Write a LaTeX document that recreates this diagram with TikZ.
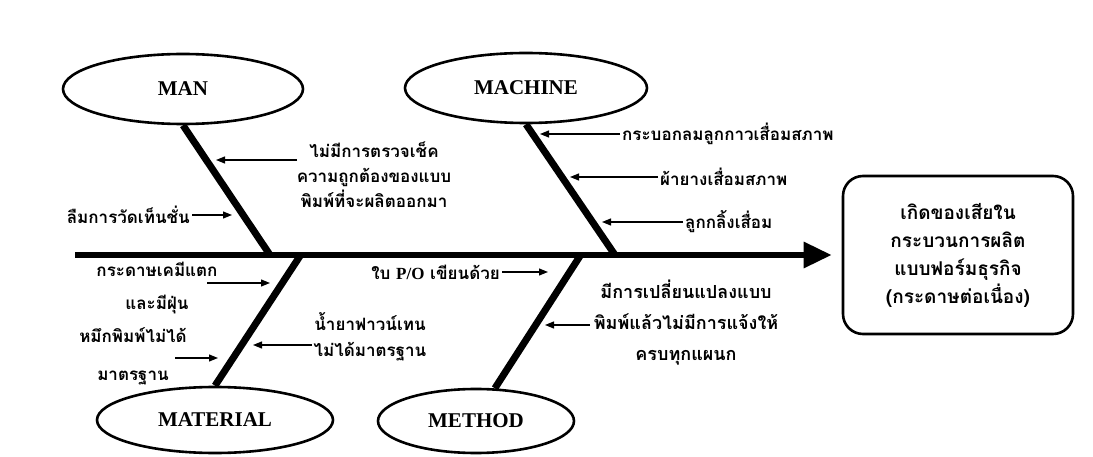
\documentclass[tikz,border=0pt]{standalone}
\usepackage{fontspec}
\setmainfont{Liberation Serif}
\newfontfamily\thai[Script=Thai]{Loma}
\usetikzlibrary{arrows.meta,shapes.geometric}
\begin{document}
\begin{tikzpicture}[x=1pt,y=-1pt,
  cat/.style={ellipse,draw,line width=2.6pt,inner sep=0,
    font=\fontsize{21}{22}\selectfont\bfseries},
  bone/.style={line width=7pt},
  spine/.style={line width=6pt,-{Triangle[length=28pt,width=25pt]}},
  cause/.style={line width=1.2pt,-{Triangle[length=9pt,width=7pt]}},
  lbl/.style={inner sep=0,align=center,font=\thai\bfseries\fontsize{17}{25}\selectfont},
  effectbox/.style={draw,line width=2.6pt,rounded corners=20pt,
    minimum width=230pt,minimum height=158pt,align=center,
    font=\thai\bfseries\fontsize{19}{28}\selectfont}
]
\useasboundingbox (0,0) rectangle (1093,457);

% effect and spine
\node[effectbox] (effect) at (958,255) {เกิดของเสียใน\\กระบวนการผลิต\\แบบฟอร์มธุรกิจ\\(กระดาษต่อเนื่อง)};
\coordinate (tail) at (75,255);
\draw[spine] (tail) -- ([xshift=-10pt]effect.west);

% joints on spine
\coordinate (manj) at (270,255);
\coordinate (macj) at (615,255);
\coordinate (matj) at (300,256);
\coordinate (metj) at (580,256);

% categories
\node[cat,minimum width=240pt,minimum height=70pt] (man) at (183,89) {MAN};
\node[cat,minimum width=242pt,minimum height=70pt] (machine) at (526,88) {MACHINE};
\node[cat,minimum width=236pt,minimum height=66pt] (material) at (215,420) {MATERIAL};
\node[cat,minimum width=196pt,minimum height=64pt] (method) at (476,421) {METHOD};

% bones
\draw[bone] (man.south) -- (manj);
\draw[bone] (machine.south) -- (macj);
\draw[bone] (material.north) -- (matj);
\draw[bone] (method.60) -- (metj);

% MAN causes
\node[lbl] (manA) at (374,175) {ไม่มีการตรวจเช็ค\\ความถูกต้องของแบบ\\พิมพ์ที่จะผลิตออกมา};
\coordinate (a1s) at (297,160);
\coordinate (a1e) at (216,160);
\draw[cause] (a1s) -- (a1e);
\node[lbl,anchor=east] (manB) at (190,215) {ลืมการวัดเท็นชั่น};
\coordinate (a2e) at (232,215);
\draw[cause] ([xshift=2pt]manB.east) -- (a2e);

% MACHINE causes
\node[lbl,anchor=west] (macA) at (622,134) {กระบอกลมลูกกาวเสื่อมสภาพ};
\coordinate (b1e) at (540,134);
\draw[cause] ([xshift=-2pt]macA.west) -- (b1e);
\node[lbl,anchor=west] (macB) at (660,177) {ผ้ายางเสื่อมสภาพ};
\coordinate (b2e) at (570,177);
\draw[cause] ([xshift=-2pt]macB.west) -- (b2e);
\node[lbl,anchor=west] (macC) at (685,222) {ลูกกลิ้งเสื่อม};
\coordinate (b3e) at (602,222);
\draw[cause] ([xshift=-2pt]macC.west) -- (b3e);

% MATERIAL causes
\node[lbl,font=\thai\bfseries\fontsize{17}{33}\selectfont] (matA) at (157,288) {กระดาษเคมีแตก\\และมีฝุ่น};
\coordinate (c1s) at (207,283);
\coordinate (c1e) at (270,283);
\draw[cause] (c1s) -- (c1e);
\node[lbl,font=\thai\bfseries\fontsize{17}{38}\selectfont] (matB) at (133,356) {หมึกพิมพ์ไม่ได้\\มาตรฐาน};
\coordinate (c2s) at (175,358);
\coordinate (c2e) at (218,358);
\draw[cause] (c2s) -- (c2e);
\node[lbl,font=\thai\bfseries\fontsize{17}{26}\selectfont] (matC) at (370,337) {น้ำยาฟาวน์เทน\\ไม่ได้มาตรฐาน};
\coordinate (c3s) at (312,345);
\coordinate (c3e) at (253,345);
\draw[cause] (c3s) -- (c3e);

% METHOD causes
\node[lbl,anchor=east] (metA) at (500,272) {ใบ {\rmfamily P/O} เขียนด้วย};
\coordinate (d1e) at (548,272);
\draw[cause] ([xshift=2pt]metA.east) -- (d1e);
\node[lbl,font=\thai\bfseries\fontsize{18}{31}\selectfont] (metB) at (686,323) {มีการเปลี่ยนแปลงแบบ\\พิมพ์แล้วไม่มีการแจ้งให้\\ครบทุกแผนก};
\coordinate (d2s) at (590,325);
\coordinate (d2e) at (545,325);
\draw[cause] (d2s) -- (d2e);
\end{tikzpicture}
\end{document}
